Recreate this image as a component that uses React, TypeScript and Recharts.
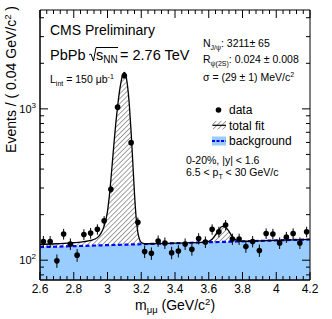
import React from "react";
import {
  ComposedChart,
  Area,
  Line,
  Scatter,
  ErrorBar,
  XAxis,
  YAxis,
  ReferenceArea,
} from "recharts";

// dimuon mass bin centres (GeV/c^2) and counts per 0.04 GeV/c^2
const binMass = [
  2.62, 2.66, 2.7, 2.74, 2.78, 2.82, 2.86, 2.9, 2.94, 2.98,
  3.02, 3.06, 3.1, 3.14, 3.18, 3.22, 3.26, 3.3, 3.34, 3.38,
  3.42, 3.46, 3.5, 3.54, 3.58, 3.62, 3.66, 3.7, 3.74, 3.78,
  3.82, 3.86, 3.9, 3.94, 3.98, 4.02, 4.06, 4.1, 4.14, 4.18,
];
const counts = [
  133, 133, 99, 149, 128, 108, 148, 151, 160, 182,
  294, 1026, 1655, 598, 178, 114, 111, 134, 130, 112,
  115, 128, 118, 139, 132, 160, 154, 171, 138, 138,
  123, 133, 116, 150, 149, 130, 142, 150, 130, 154,
];
const countErr = [
  11.5, 11.5, 10, 12.2, 11.3, 10.4, 12.2, 12.3, 12.6, 13.5,
  17.1, 32, 40.7, 24.5, 13.3, 10.7, 10.5, 11.6, 11.4, 10.6,
  10.7, 11.3, 10.9, 11.8, 11.5, 12.6, 12.4, 13.1, 11.7, 11.7,
  11.1, 11.5, 10.8, 12.2, 12.2, 11.4, 11.9, 12.2, 11.4, 12.4,
];

// fit curve
const fitMass = [
  2.6, 2.7, 2.8, 2.86, 2.9, 2.94, 2.96, 2.98, 3.0, 3.01,
  3.02, 3.03, 3.04, 3.05, 3.06, 3.07, 3.08, 3.09, 3.1, 3.11,
  3.12, 3.13, 3.14, 3.15, 3.16, 3.17, 3.18, 3.19, 3.2, 3.22,
  3.25, 3.3, 3.4, 3.5, 3.58, 3.6, 3.62, 3.64, 3.66, 3.68,
  3.7, 3.72, 3.74, 3.76, 3.78, 3.8, 3.9, 4.0, 4.1, 4.2,
];
const fitTotal = [
  127, 128.5, 130.5, 132.5, 135, 141, 150, 168, 210, 260,
  340, 460, 620, 820, 1040, 1280, 1500, 1680, 1740, 1640,
  1380, 1040, 700, 440, 275, 190, 152, 137, 131, 128.5,
  128.5, 128.8, 129.6, 130.5, 131.5, 133, 137.5, 147, 159, 167.5,
  165, 155, 143, 136.5, 134, 133.4, 134.3, 135.2, 136.2, 137.1,
];
const fitBkg = [
  122, 122.9, 123.9, 124.4, 124.8, 125.2, 125.4, 125.6, 125.8, 125.8,
  125.9, 126, 126.1, 126.2, 126.3, 126.4, 126.5, 126.6, 126.7, 126.8,
  126.9, 127, 127.1, 127.2, 127.3, 127.4, 127.4, 127.5, 127.6, 127.8,
  128.1, 128.6, 129.5, 130.4, 131.2, 131.4, 131.6, 131.8, 131.9, 132.1,
  132.3, 132.5, 132.7, 132.9, 133.1, 133.3, 134.2, 135.1, 136.1, 137,
];

const yTicks = [80, 90, 100, 200, 300, 400, 500, 600, 700, 800, 900, 1000, 2000, 3000, 4000];
const yLabels: Record<number, string> = { 100: "2", 1000: "3" };
const xTicks = Array.from({ length: 41 }, (_, i) => Math.round((2.6 + i * 0.04) * 100) / 100);

const fitRows = fitMass.map((m, i) => ({ m, fit: fitTotal[i], bg: fitBkg[i] }));
const points = binMass.map((m, i) => ({ m, n: counts[i], e: countErr[i] }));

const W = 332;
const H = 319;
const PLOT = { left: 40, right: 310, top: 10, bottom: 280 };
const FONT = "'Liberation Sans', Arial, sans-serif";
const BLUE_FILL = "#99ccff";

function XTick(props: any) {
  const { x, y, payload } = props;
  const v = payload.value as number;
  const major = Math.abs(v * 5 - Math.round(v * 5)) < 1e-6;
  const len = major ? 8 : 4;
  return (
    <g>
      <line x1={x} y1={y} x2={x} y2={y - len} stroke="#000" />
      <line x1={x} y1={PLOT.top} x2={x} y2={PLOT.top + len} stroke="#000" />
      {major && (
        <text x={x} y={y + 13} textAnchor="middle" fontSize={12} fontFamily={FONT} fill="#000">
          {String(Number(v.toFixed(1)))}
        </text>
      )}
    </g>
  );
}

function YTick(props: any) {
  const { x, y, payload } = props;
  const v = payload.value as number;
  const exp = yLabels[v];
  const len = exp ? 8 : 4;
  return (
    <g>
      <line x1={x} y1={y} x2={x + len} y2={y} stroke="#000" />
      <line x1={PLOT.right} y1={y} x2={PLOT.right - len} y2={y} stroke="#000" />
      {exp && (
        <text x={x - 4} y={y + 4} textAnchor="end" fontSize={11} fontFamily={FONT} fill="#000">
          10
          <tspan dy={-5} fontSize={8}>{exp}</tspan>
        </text>
      )}
    </g>
  );
}

function Dot(props: any) {
  return <circle cx={props.cx} cy={props.cy} r={2.8} fill="#000" />;
}

export default function App() {
  return (
    <div style={{ position: "absolute", left: 0, top: 0, width: W, height: H, background: "#fff" }}>
      <ComposedChart
        width={W}
        height={H}
        data={fitRows}
        margin={{ top: PLOT.top, right: W - PLOT.right, bottom: 0, left: 0 }}
      >
        <defs>
          <pattern id="hatchFit" width={3.5} height={3.5} patternUnits="userSpaceOnUse" patternTransform="rotate(45)">
            <line x1={0} y1={0} x2={0} y2={3.5} stroke="#444" strokeWidth={1} />
          </pattern>
        </defs>
        <XAxis
          dataKey="m"
          type="number"
          domain={[2.6, 4.2]}
          allowDataOverflow
          ticks={xTicks}
          interval={0}
          tickLine={false}
          tickSize={0}
          tickMargin={0}
          tick={(p: any) => <XTick {...p} />}
          axisLine={{ stroke: "#000" }}
          height={H - PLOT.bottom}
        />
        <YAxis
          type="number"
          scale="log"
          domain={[74, 4500]}
          allowDataOverflow
          ticks={yTicks}
          interval={0}
          tickLine={false}
          tickSize={0}
          tickMargin={0}
          tick={(p: any) => <YTick {...p} />}
          axisLine={{ stroke: "#000" }}
          width={PLOT.left}
        />
        <Area
          dataKey="bg"
          type="linear"
          fill={BLUE_FILL}
          fillOpacity={1}
          stroke="none"
          isAnimationActive={false}
        />
        <Area
          dataKey={(d: any) => [d.bg, d.fit]}
          type="monotone"
          fill="url(#hatchFit)"
          fillOpacity={1}
          stroke="none"
          isAnimationActive={false}
        />
        <Line
          dataKey="bg"
          type="linear"
          stroke="#0000ff"
          strokeWidth={2.2}
          strokeDasharray="4 2.5"
          dot={false}
          isAnimationActive={false}
        />
        <Line
          dataKey="fit"
          type="monotone"
          stroke="#000"
          strokeWidth={1.3}
          dot={false}
          isAnimationActive={false}
        />
        <Scatter data={points} dataKey="n" shape={<Dot />} isAnimationActive={false}>
          <ErrorBar dataKey="e" direction="y" width={0} stroke="#000" strokeWidth={1} />
        </Scatter>
        <ReferenceArea x1={2.6} x2={4.2} y1={74} y2={4500} fill="none" stroke="#000" ifOverflow="visible" />
      </ComposedChart>

      <svg
        width={W}
        height={H}
        style={{ position: "absolute", left: 0, top: 0, pointerEvents: "none" }}
        fontFamily={FONT}
      >
        <defs>
          <pattern id="hatchLeg" width={3.5} height={3.5} patternUnits="userSpaceOnUse" patternTransform="rotate(45)">
            <line x1={0} y1={0} x2={0} y2={3.5} stroke="#444" strokeWidth={1} />
          </pattern>
        </defs>

        <text x={50} y={35} fontSize={14}>CMS Preliminary</text>

        <text x={50} y={60} fontSize={14.5}>PbPb</text>
        <polyline points="89,55 91,54 93.5,61 96,47.5 118,47.5" fill="none" stroke="#000" strokeWidth={1} />
        <text x={96} y={60} fontSize={14.5}>
          s<tspan dy={3} fontSize={10}>NN</tspan>
        </text>
        <text x={120} y={60} fontSize={14.5}>= 2.76 TeV</text>

        <text x={50} y={83} fontSize={10.5}>
          L<tspan dy={2.5} fontSize={7}>int</tspan>
          <tspan dy={-2.5}> = 150 μb</tspan>
          <tspan dy={-4} fontSize={7}>-1</tspan>
        </text>

        <text x={203} y={47} fontSize={10.5}>
          N<tspan dy={2.5} fontSize={7}>J/ψ</tspan>
          <tspan dy={-2.5}>: 3211± 65</tspan>
        </text>
        <text x={203} y={63} fontSize={10.5}>
          R<tspan dy={2.5} fontSize={7}>ψ(2S)</tspan>
          <tspan dy={-2.5}>: 0.024 ± 0.008</tspan>
        </text>
        <text x={203} y={81} fontSize={10.5}>
          σ = (29 ± 1) MeV/c<tspan dy={-4} fontSize={7}>2</tspan>
        </text>

        <circle cx={218.5} cy={110} r={2.8} fill="#000" />
        <text x={229} y={114} fontSize={12}>data</text>
        <rect x={212.5} y={121} width={13.5} height={8.5} fill="url(#hatchLeg)" />
        <line x1={212.5} y1={125.3} x2={226} y2={125.3} stroke="#000" strokeWidth={1.2} />
        <text x={229} y={129.5} fontSize={12}>total fit</text>
        <rect x={212} y={136.5} width={14} height={9} fill={BLUE_FILL} />
        <line x1={212} y1={141} x2={226} y2={141} stroke="#0000ff" strokeWidth={2} strokeDasharray="3 1.5" />
        <text x={229} y={144.5} fontSize={12}>background</text>

        <text x={186} y={163.5} fontSize={10.5}>0-20%, |y| &lt; 1.6</text>
        <text x={186} y={176} fontSize={10.5}>
          6.5 &lt; p<tspan dy={2.5} fontSize={7}>T</tspan>
          <tspan dy={-2.5}> &lt; 30 GeV/c</tspan>
        </text>

        <text x={135} y={310} fontSize={14}>
          m<tspan dy={3} fontSize={9.5}>μμ</tspan>
          <tspan dy={-3}> (GeV/c</tspan>
          <tspan dy={-5} fontSize={9.5}>2</tspan>
          <tspan dy={5}>)</tspan>
        </text>

        <text transform="translate(15.5,6) rotate(-90)" textAnchor="end" fontSize={14}>
          Events / ( 0.04 GeV/c<tspan dy={-5} fontSize={9.5}>2</tspan>
          <tspan dy={5}> )</tspan>
        </text>
      </svg>
    </div>
  );
}
